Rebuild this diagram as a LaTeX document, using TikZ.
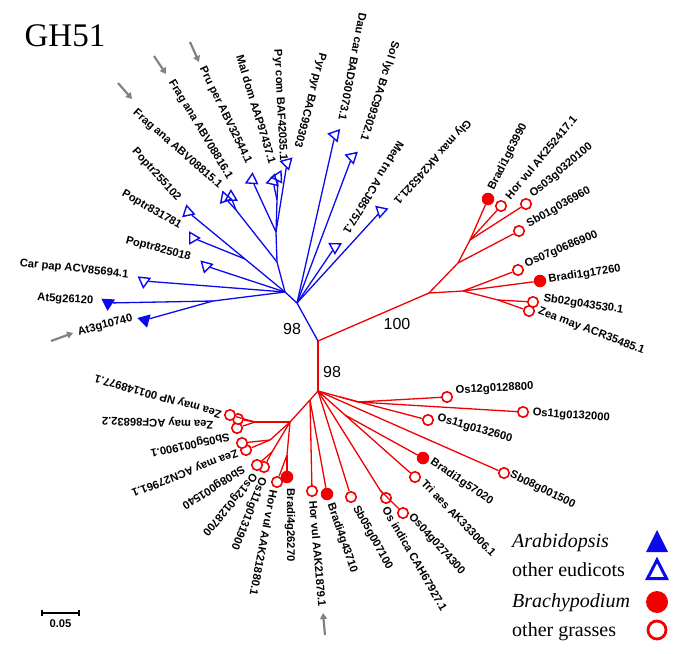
\documentclass[tikz,border=0pt]{standalone}
\usepackage{fontspec}
\setmainfont{Liberation Serif}
\setsansfont{Liberation Sans}
\usetikzlibrary{shapes.geometric,arrows.meta}
\definecolor{tblue}{RGB}{10,10,235}
\definecolor{tred}{RGB}{240,0,0}
\definecolor{tgray}{RGB}{130,130,130}
\tikzset{
  bl/.style={draw=tblue, line width=1.3pt},
  rd/.style={draw=tred, line width=1.3pt},
  tri/.style={regular polygon, regular polygon sides=3, minimum size=13pt, inner sep=0pt, draw=tblue, line width=1.4pt},
  trif/.style={tri, fill=tblue},
  circ/.style={circle, minimum size=10.5pt, inner sep=0pt, draw=tred, line width=1.6pt, fill=white},
  circf/.style={circle, minimum size=12.5pt, inner sep=0pt, fill=tred},
  lab/.style={font=\sffamily\bfseries\fontsize{11.2}{13}\selectfont, inner sep=0.5pt},
  labw/.style={lab, anchor=west},
  labe/.style={lab, anchor=east},
  boot/.style={font=\sffamily\fontsize{16}{18}\selectfont, inner sep=0pt},
  legtext/.style={font=\rmfamily\fontsize{20}{22}\selectfont, anchor=base west, inner sep=0pt},
  grayarrow/.style={draw=tgray, line width=2.2pt, -{Triangle[length=6pt,width=7pt]}},
}
\begin{document}
\begin{tikzpicture}[x=1pt,y=-1pt]
\useasboundingbox (0,0) rectangle (685,653);

% ---------- internal nodes ----------
\coordinate (R) at (297,303);
\coordinate (J) at (318,341);
\coordinate (L) at (285,292);
\coordinate (A) at (213,301);
\coordinate (PQ) at (245,259);
\coordinate (P) at (277,262);
\coordinate (F) at (236,210);
\coordinate (Q) at (276,232);
\coordinate (Q2) at (277,200);
\coordinate (K) at (429,293);
\coordinate (A1) at (458,263);
\coordinate (A2) at (470,240);
\coordinate (B) at (463,291);
\coordinate (B2) at (498,300);
\coordinate (D) at (318,391);
\coordinate (E1) at (340,397);
\coordinate (E2) at (358,402);
\coordinate (T) at (345,415);
\coordinate (O) at (380,490);
\coordinate (H) at (310,400);
\coordinate (G) at (290,422);
\coordinate (Z1) at (255,422);
\coordinate (Y) at (270,440);
\coordinate (X) at (272,452);
\coordinate (W) at (287,455);

% ---------- blue leaves ----------
\node[trif, shape border rotate=177] (at5) at (108,303) {};
\node[trif, shape border rotate=-165] (at3) at (145,320) {};
\node[tri, shape border rotate=-186] (carpap) at (144,281) {};
\node[tri, shape border rotate=-195] (pop825) at (206,266) {};
\node[tri, shape border rotate=-210] (pop831) at (193,238) {};
\node[tri, shape border rotate=-228] (pop255) at (188,212) {};
\node[tri, shape border rotate=-221] (frag15) at (225,198) {};
\node[tri, shape border rotate=-239] (frag16) at (231,197) {};
\node[tri, shape border rotate=-244] (pruper) at (252,180) {};
\node[tri, shape border rotate=-253] (maldom) at (273,181) {};
\node[tri, shape border rotate=-267] (pyrcom) at (278,177) {};
\node[tri, shape border rotate=-285] (pyrpyr) at (287,163) {};
\node[tri, shape border rotate=-281] (daucar) at (335,135) {};
\node[tri, shape border rotate=-288] (sollyc) at (352,157) {};
\node[tri, shape border rotate=-301] (medtru) at (335,247) {};
\node[tri, shape border rotate=-312] (glymax) at (381,211) {};

% ---------- red leaves (upper) ----------
\node[circf] (br63) at (488,199) {};
\node[circ] (hvAK) at (501,206) {};
\node[circ] (os03) at (526,204) {};
\node[circ] (sb01) at (519,231) {};
\node[circ] (os07) at (518,270) {};
\node[circf] (br17) at (540,281) {};
\node[circ] (sb02) at (533,302) {};
\node[circ] (zeaACR) at (529,311) {};

% ---------- red leaves (lower) ----------
\node[circ] (os12a) at (447,397) {};
\node[circ] (os11b) at (523,412) {};
\node[circ] (os11c) at (428,420) {};
\node[circ] (sb08a) at (504,473) {};
\node[circf] (br57) at (423,458) {};
\node[circ] (triaes) at (415,477) {};
\node[circ] (os04) at (403,513) {};
\node[circ] (osind) at (386,498) {};
\node[circ] (sb05a) at (351,497) {};
\node[circf] (br43) at (327,494) {};
\node[circ] (hv79) at (312,491) {};
\node[circf] (br26) at (287,477) {};
\node[circ] (hv80) at (277,482) {};
\node[circ] (os11d) at (264,467) {};
\node[circ] (os12b) at (257,465) {};
\node[circ] (sb08b) at (246,450) {};
\node[circ] (zeaACN) at (242,443) {};
\node[circ] (sb05b) at (237,428) {};
\node[circ] (zeaACF) at (238,419) {};
\node[circ] (zeaNP) at (230,415) {};

% ---------- blue edges ----------
\draw[bl] (J) -- (R);
\draw[bl] (R) -- (L);
\draw[bl] (R) -- (daucar);
\draw[bl] (R) -- (sollyc);
\draw[bl] (R) -- (medtru);
\draw[bl] (R) -- (glymax);
\draw[bl] (L) -- (A);
\draw[bl] (A) -- (at5);
\draw[bl] (A) -- (at3);
\draw[bl] (L) -- (carpap);
\draw[bl] (L) -- (pop825);
\draw[bl] (L) -- (PQ);
\draw[bl] (PQ) -- (pop255);
\draw[bl] (PQ) -- (pop831);
\draw[bl] (L) -- (P);
\draw[bl] (P) -- (F);
\draw[bl] (F) -- (frag15);
\draw[bl] (F) -- (frag16);
\draw[bl] (P) -- (Q);
\draw[bl] (Q) -- (pruper);
\draw[bl] (Q) -- (Q2);
\draw[bl] (Q2) -- (maldom);
\draw[bl] (Q2) -- (pyrcom);
\draw[bl] (Q) -- (pyrpyr);

% ---------- red edges ----------
\draw[rd] (J) -- (K);
\draw[rd] (J) -- (D);
\draw[rd] (K) -- (A1);
\draw[rd] (A1) -- (A2);
\draw[rd] (A2) -- (br63);
\draw[rd] (A2) -- (hvAK);
\draw[rd] (A2) -- (os03);
\draw[rd] (A1) -- (sb01);
\draw[rd] (K) -- (B);
\draw[rd] (B) -- (os07);
\draw[rd] (B) -- (br17);
\draw[rd] (B) -- (B2);
\draw[rd] (B2) -- (sb02);
\draw[rd] (B2) -- (zeaACR);
\draw[rd] (D) -- (E1);
\draw[rd] (E1) -- (os11c);
\draw[rd] (E1) -- (E2);
\draw[rd] (E2) -- (os12a);
\draw[rd] (E2) -- (os11b);
\draw[rd] (D) -- (sb08a);
\draw[rd] (D) -- (T);
\draw[rd] (T) -- (br57);
\draw[rd] (T) -- (triaes);
\draw[rd] (D) -- (O);
\draw[rd] (O) -- (osind);
\draw[rd] (O) -- (os04);
\draw[rd] (D) -- (sb05a);
\draw[rd] (D) -- (H);
\draw[rd] (H) -- (hv79);
\draw[rd] (H) -- (br43);
\draw[rd] (H) -- (G);
\draw[rd] (G) -- (Z1);
\draw[rd] (Z1) -- (zeaNP);
\draw[rd] (Z1) -- (zeaACF);
\draw[rd] (Z1) -- (sb05b);
\draw[rd] (G) -- (Y);
\draw[rd] (Y) -- (zeaACN);
\draw[rd] (Y) -- (sb08b);
\draw[rd] (G) -- (X);
\draw[rd] (X) -- (os12b);
\draw[rd] (X) -- (os11d);
\draw[rd] (G) -- (W);
\draw[rd] (W) -- (br26);
\draw[rd] (W) -- (hv80);

% ---------- blue labels ----------
\node[labe, rotate=15] (lat3) at (133,318) {At3g10740};
\node[labe, rotate=-3] (lat5) at (94,301) {At5g26120};
\node[labe, rotate=-6] (lcar) at (129,275) {Car pap ACV85694.1};
\node[labe, rotate=-15] (lp825) at (191,258) {Poptr825018};
\node[labe, rotate=-30] (lp831) at (181,227) {Poptr831781};
\node[labe, rotate=-48] (lp255) at (179,200) {Poptr255102};
\node[labe, rotate=-41] (lf15) at (221,187) {Frag ana ABV08815.1};
\node[labe, rotate=-59] (lf16) at (230,179) {Frag ana ABV08816.1};
\node[labe, rotate=-64] (lpru) at (249,164) {Pru per ABV32544.1};
\node[labe, rotate=-73] (lmal) at (273,164) {Mal dom AAP97437.1};
\node[labe, rotate=-87] (lpyc) at (283,161) {Pyr com BAF42035.1};
\node[labe, rotate=-105] (lpyp) at (297,148) {Pyr pyr BAC99303};
\node[labe, rotate=-101] (ldau) at (342,121) {Dau car BAD30073.1};
\node[labe, rotate=-108] (lsol) at (363,141) {Sol lyc BAC99302.1};
\node[labe, rotate=-121] (lmed) at (346,234) {Med tru ACJ85757.1};
\node[labe, rotate=-132] (lgly) at (395,203) {Gly max AK245321.1};

% ---------- red labels (upper) ----------
\node[labw, rotate=63] (lbr63) at (491,190) {Bradi1g63990};
\node[labw, rotate=50] (lhvAK) at (507,198) {Hor vul AK252417.1};
\node[labw, rotate=40] (los03) at (531,196) {Os03g0320100};
\node[labw, rotate=29] (lsb01) at (527,225) {Sb01g036960};
\node[labw, rotate=23] (los07) at (525,265) {Os07g0686900};
\node[labw, rotate=9] (lbr17) at (548,280) {Bradi1g17260};
\node[labw, rotate=-8] (lsb02) at (543,299) {Sb02g043530.1};
\node[labw, rotate=-21] (lzeaACR) at (538,311) {Zea may ACR35485.1};

% ---------- red labels (lower) ----------
\node[labw, rotate=3] (los12a) at (455,391) {Os12g0128800};
\node[labw, rotate=-4] (los11b) at (532,413) {Os11g0132000};
\node[labw, rotate=-16] (los11c) at (437,418) {Os11g0132600};
\node[labw, rotate=-26] (lsb08a) at (510,474) {Sb08g001500};
\node[labw, rotate=-34] (lbr57) at (431,461) {Bradi1g57020};
\node[labw, rotate=-46] (ltri) at (423,481) {Tri aes AK333006.1};
\node[labw, rotate=-48] (los04) at (410,515) {Os04g0274300};
\node[labw, rotate=-60] (losind) at (385,507) {Os indica CAH67927.1};
\node[labw, rotate=-61] (lsb05a) at (355,506) {Sb05g007100};
\node[labw, rotate=-71] (lbr43) at (330,503) {Bradi4g43710};
\node[labw, rotate=-85] (lhv79) at (313,500) {Hor vul AAK21879.1};
\node[labw, rotate=-90] (lbr26) at (290,488) {Bradi4g26270};
\node[labw, rotate=-101] (lhv80) at (274,490) {Hor vul AAK21880.1};
\node[labw, rotate=-112] (los11d) at (263,477) {Os11g0131900};
\node[labw, rotate=-130] (los12b) at (255,474) {Os12g0128700};
\node[labw, rotate=-148] (lsb08b) at (244,468) {Sb08g001540};
\node[labw, rotate=-159] (lzeaACN) at (238,452) {Zea may ACN27961.1};
\node[labw, rotate=-168] (lsb05b) at (230,436) {Sb05g001900.1};
\node[labw, rotate=178] (lzeaACF) at (214,424) {Zea may ACF86832.2};
\node[labw, rotate=164] (lzeaNP) at (222,414) {Zea may NP 001148977.1};

% ---------- bootstrap values ----------
\node[boot] (b98a) at (292,329) {98};
\node[boot] (b100) at (397,324) {100};
\node[boot] (b98b) at (332,372) {98};

% ---------- title ----------
\node[font=\rmfamily\fontsize{33}{36}\selectfont, inner sep=0pt] (title) at (65,36) {GH51};

% ---------- gray arrows ----------
\coordinate (ga1s) at (118,83);  \coordinate (ga1e) at (132,99);
\coordinate (ga2s) at (154,56);  \coordinate (ga2e) at (166,74);
\coordinate (ga3s) at (190,42);  \coordinate (ga3e) at (199,62);
\coordinate (ga4s) at (51,341);  \coordinate (ga4e) at (73,333);
\coordinate (ga5s) at (325,635); \coordinate (ga5e) at (323,613);
\draw[grayarrow] (ga1s) -- (ga1e);
\draw[grayarrow] (ga2s) -- (ga2e);
\draw[grayarrow] (ga3s) -- (ga3e);
\draw[grayarrow] (ga4s) -- (ga4e);
\draw[grayarrow] (ga5s) -- (ga5e);

% ---------- scale bar ----------
\coordinate (sb1) at (42,613);
\coordinate (sb2) at (79,613);
\draw[line width=1.4pt] (sb1) -- (sb2);
\draw[line width=1.2pt] (42,610) -- (42,616);
\draw[line width=1.2pt] (79,610) -- (79,616);
\node[lab] (sblab) at (60.5,624) {0.05};

% ---------- legend ----------
\node[legtext] (lg1) at (512,547) {\itshape Arabidopsis};
\node[legtext] (lg2) at (512,576) {other eudicots};
\node[legtext] (lg3) at (512,607) {\itshape Brachypodium};
\node[legtext] (lg4) at (512,636) {other grasses};
\fill[tblue] (646,552) -- (668,552) -- (657,530) -- cycle;
\draw[tblue, line width=3pt, line join=miter] (647.5,578.5) -- (666.5,578.5) -- (657,560) -- cycle;
\node[circle, fill=tred, minimum size=22pt, inner sep=0pt] (lgc1) at (657,602) {};
\node[circle, draw=tred, line width=2.8pt, minimum size=18pt, inner sep=0pt] (lgc2) at (657,630) {};
\end{tikzpicture}
\end{document}
